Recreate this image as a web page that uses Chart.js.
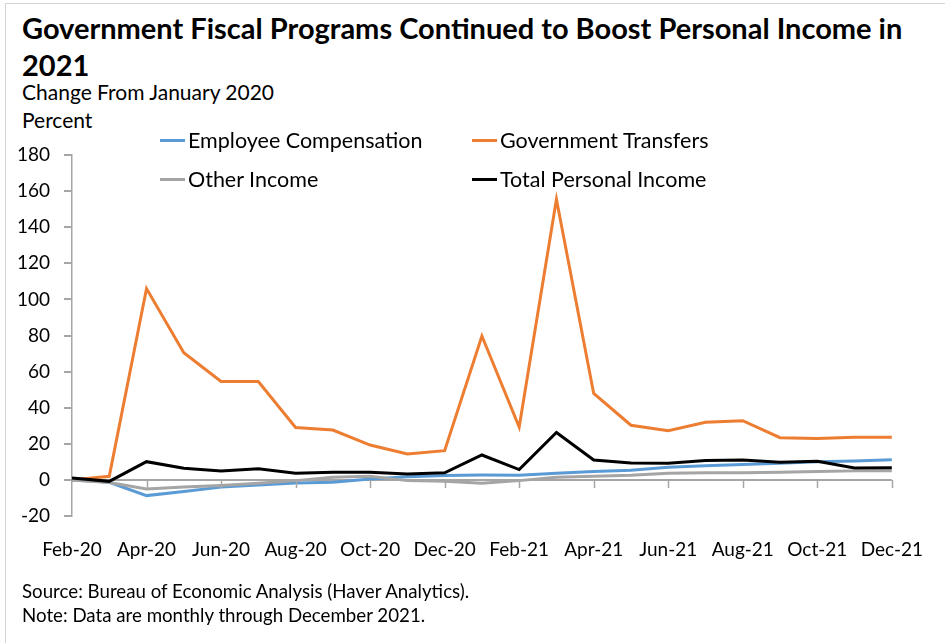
<!DOCTYPE html>
<html>
<head>
<meta charset="utf-8">
<script src="https://cdn.jsdelivr.net/npm/chart.js@4.4.0/dist/chart.umd.min.js"></script>
<style>
  html, body { margin: 0; padding: 0; background: #fff; }
  body { width: 945px; height: 643px; position: relative; overflow: hidden; font-family: Lato, "Noto Sans", sans-serif; color: #000; }
  .frame { position: absolute; left: 5px; top: 3px; right: -2px; bottom: -2px; border-left: 1px solid #d4d4d4; border-top: 1px solid #d4d4d4; }
  .title { position: absolute; left: 22px; top: 9px; width: 915px; font-size: 29px; font-weight: bold; line-height: 37px; }
  .sub { position: absolute; left: 22px; font-size: 21px; }
  .note { position: absolute; left: 22px; font-size: 18.7px; }
  canvas#chart { position: absolute; left: 0; top: 0; }
  .legend { position: absolute; font-size: 21.5px; display: flex; align-items: center; }
  .legend span.sw { display: inline-block; width: 25px; height: 3px; margin-right: 3px; }
</style>
</head>
<body>
<div class="frame"></div>
<div class="title">Government Fiscal Programs Continued to Boost Personal Income in 2021</div>
<div class="sub" style="top:79px">Change From January 2020</div>
<div class="sub" style="top:107px">Percent</div>
<canvas id="chart" width="945" height="643"></canvas>
<div id="legend"></div>
<div class="note" style="top:580px">Source: Bureau of Economic Analysis (Haver Analytics).</div>
<div class="note" style="top:604px">Note: Data are monthly through December 2021.</div>
<script>
const months = ['Feb-20', 'Mar-20', 'Apr-20', 'May-20', 'Jun-20', 'Jul-20', 'Aug-20', 'Sep-20', 'Oct-20', 'Nov-20', 'Dec-20',
  'Jan-21', 'Feb-21', 'Mar-21', 'Apr-21', 'May-21', 'Jun-21', 'Jul-21', 'Aug-21', 'Sep-21', 'Oct-21', 'Nov-21', 'Dec-21'];

const employeeComp = [0, -1.3, -8.7, -6.4, -4.0, -2.8, -1.7, -1.3, 0.5, 1.8, 2.4, 2.7, 2.6, 3.7, 4.6, 5.4, 7.0, 7.9, 8.5, 9.2, 10.1, 10.5, 11.2];
const govTransfers = [0, 2, 106, 70.5, 54.5, 54.5, 29, 27.6, 19.3, 14.4, 16.2, 79.7, 29.3, 155.5, 47.9, 30.3, 27.2, 31.9, 32.8, 23.4, 23.0, 23.6, 23.6];
const otherIncome = [0, -1.5, -5.0, -4.0, -3.1, -1.9, -0.4, 1.5, 2.0, -0.4, -0.7, -1.9, -0.4, 1.5, 2.0, 2.6, 3.7, 3.9, 4.0, 4.2, 4.6, 5.0, 5.1];
const totalIncome = [1, -0.8, 10.1, 6.4, 5.0, 6.2, 3.7, 4.2, 4.2, 3.3, 3.9, 13.8, 5.7, 26.3, 11.0, 9.3, 9.2, 10.7, 11.0, 9.8, 10.3, 6.6, 6.8];

const yTicks = [-20, 0, 20, 40, 60, 80, 100, 120, 140, 160, 180];

const seriesNames = ['Employee Compensation', 'Government Transfers', 'Other Income', 'Total Personal Income'];
const seriesColors = ['#5b9bd5', '#ed7d31', '#a5a5a5', '#000000'];
const seriesData = [employeeComp, govTransfers, otherIncome, totalIncome];

const axisGrey = '#a6a6a6';

// tick marks hanging below the zero line, like the Excel category axis
const zeroAxisTicks = {
  id: 'zeroAxisTicks',
  afterDatasetsDraw(chart) {
    const { ctx, scales: { x, y } } = chart;
    const y0 = y.getPixelForValue(0);
    ctx.save();
    ctx.strokeStyle = axisGrey;
    ctx.lineWidth = 1.5;
    ctx.beginPath();
    months.forEach((m, i) => {
      if (i % 2 !== 0 || i === 0) return;
      const px = Math.round(x.getPixelForValue(i)) + 0.5;
      ctx.moveTo(px, y0);
      ctx.lineTo(px, y0 + 8);
    });
    ctx.stroke();
    ctx.restore();
  }
};

const chart = new Chart(document.getElementById('chart'), {
  type: 'line',
  data: {
    labels: months,
    datasets: seriesData.map((d, i) => ({
      label: seriesNames[i],
      data: d,
      borderColor: seriesColors[i],
      backgroundColor: seriesColors[i],
      borderWidth: 3,
      pointRadius: 0,
      tension: 0,
      order: 3 - i,
    })),
  },
  options: {
    responsive: false,
    animation: false,
    layout: { padding: { top: 155, right: 53, bottom: 77, left: 0 } },
    plugins: {
      legend: { display: false },
      tooltip: { enabled: false },
    },
    scales: {
      x: {
        offset: false,
        grid: { display: false, drawTicks: false },
        border: { display: false },
        ticks: {
          autoSkip: false,
          maxRotation: 0,
          padding: 22,
          color: '#000',
          font: { family: 'Lato', size: 19 },
          callback: (v, i) => (i % 2 === 0 ? months[i] : ''),
        },
        afterFit: (s) => { s.height = 50; },
      },
      y: {
        min: -20,
        max: 180,
        afterBuildTicks: (s) => { s.ticks = yTicks.map((v) => ({ value: v })); },
        grid: {
          color: (c) => (c.tick && c.tick.value === 0 ? axisGrey : 'transparent'),
          lineWidth: 2,
          tickColor: axisGrey,
          tickLength: 8,
          drawOnChartArea: true,
        },
        border: { display: true, color: axisGrey, width: 1.5 },
        ticks: {
          color: '#000',
          padding: 14,
          font: { family: 'Lato', size: 19 },
        },
        afterFit: (s) => { s.width = 72; },
      },
    },
  },
  plugins: [zeroAxisTicks],
});

// legend laid out in two aligned columns, over the top of the plot
const legendPos = [[160, 127], [472, 127], [160, 166], [472, 166]];
const legendBox = document.getElementById('legend');
seriesNames.forEach((name, i) => {
  const el = document.createElement('div');
  el.className = 'legend';
  el.style.left = legendPos[i][0] + 'px';
  el.style.top = legendPos[i][1] + 'px';
  el.innerHTML = '<span class="sw" style="background:' + seriesColors[i] + '"></span>' + name;
  legendBox.appendChild(el);
});
</script>
</body>
</html>
